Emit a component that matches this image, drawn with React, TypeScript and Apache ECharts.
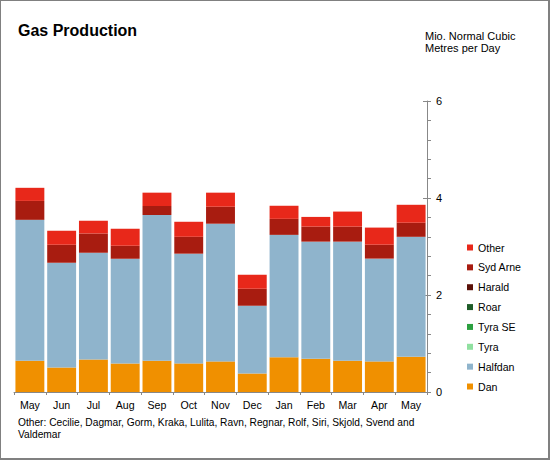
import React, { useEffect, useRef } from "react";
import * as echarts from "echarts";

const months = ["May", "Jun", "Jul", "Aug", "Sep", "Oct", "Nov", "Dec", "Jan", "Feb", "Mar", "Apr", "May"];
const dan = [0.645, 0.507, 0.672, 0.59, 0.645, 0.59, 0.631, 0.384, 0.714, 0.687, 0.645, 0.631, 0.728];
const halfdan = [2.905, 2.159, 2.2, 2.16, 3.005, 2.262, 2.839, 1.396, 2.526, 2.413, 2.455, 2.119, 2.472];
const tyra = [0, 0, 0, 0, 0, 0, 0, 0, 0, 0, 0, 0, 0];
const tyraSE = [0, 0, 0, 0, 0, 0, 0, 0, 0, 0, 0, 0, 0];
const roar = [0, 0, 0, 0, 0, 0, 0, 0, 0, 0, 0, 0, 0];
const harald = [0, 0, 0, 0, 0, 0, 0, 0, 0, 0, 0, 0, 0];
const sydArne = [0.39, 0.371, 0.398, 0.266, 0.185, 0.348, 0.35, 0.35, 0.33, 0.31, 0.31, 0.287, 0.29];
const other = [0.27, 0.289, 0.26, 0.351, 0.275, 0.31, 0.29, 0.29, 0.27, 0.2, 0.31, 0.353, 0.37];

const seriesDefs = [
  { name: "Dan", data: dan, color: "#f09000" },
  { name: "Halfdan", data: halfdan, color: "#8fb4cc" },
  { name: "Tyra", data: tyra, color: "#90e0a0" },
  { name: "Tyra SE", data: tyraSE, color: "#2ca040" },
  { name: "Roar", data: roar, color: "#1e5c28" },
  { name: "Harald", data: harald, color: "#5a1008" },
  { name: "Syd Arne", data: sydArne, color: "#a81c10" },
  { name: "Other", data: other, color: "#e8281a" },
];

const FONT = "'Liberation Sans', Arial, sans-serif";

export default function App() {
  const ref = useRef<HTMLDivElement>(null);
  useEffect(() => {
    if (!ref.current) return;
    const chart = echarts.init(ref.current, null, { renderer: "svg" });
    chart.setOption({
      animation: false,
      backgroundColor: "#ffffff",
      textStyle: { fontFamily: FONT },
      graphic: [
        {
          type: "rect",
          shape: { x: 0, y: 0, width: 549, height: 459 },
          style: { fill: "none", stroke: "#808080", lineWidth: 2 },
          silent: true,
        },
        {
          type: "text",
          left: 18,
          top: 22,
          style: { text: "Gas Production", font: `bold 16px ${FONT}`, fill: "#000" },
        },
        {
          type: "text",
          left: 425,
          top: 30,
          style: {
            text: "Mio. Normal Cubic\nMetres per Day",
            font: `11px ${FONT}`,
            lineHeight: 12,
            fill: "#000",
          },
        },
        {
          type: "text",
          left: 18,
          top: 416,
          style: {
            text: "Other: Cecilie, Dagmar, Gorm, Kraka, Lulita, Ravn, Regnar, Rolf, Siri, Skjold, Svend and\nValdemar",
            font: `10.2px ${FONT}`,
            lineHeight: 12,
            fill: "#000",
          },
        },
      ],
      legend: {
        orient: "vertical",
        left: 467,
        top: 242,
        padding: 0,
        itemWidth: 6,
        itemHeight: 6,
        itemGap: 8.86,
        icon: "rect",
        data: [...seriesDefs].reverse().map((s) => s.name),
        textStyle: { fontSize: 10.6, color: "#000", fontFamily: FONT, lineHeight: 11 },
      },
      grid: { left: 14, right: 123, top: 101, bottom: 68 },
      xAxis: {
        type: "category",
        data: months,
        axisLine: { lineStyle: { color: "#888" } },
        axisTick: { show: true, length: 3, lineStyle: { color: "#888" } },
        axisLabel: { fontSize: 10.6, color: "#000", margin: 7, interval: 0 },
      },
      yAxis: [
        {
          type: "value",
          position: "right",
          min: 0,
          max: 6,
          interval: 2,
          axisLine: { show: true, lineStyle: { color: "#888" } },
          axisTick: { show: true, length: 4, lineStyle: { color: "#888" } },
          minorTick: { show: true, splitNumber: 5, length: 4, lineStyle: { color: "#888" } },
          splitLine: { show: false },
          axisLabel: { fontSize: 11, color: "#000", margin: 9 },
        },
        {
          type: "value",
          position: "right",
          min: 0,
          max: 6,
          interval: 2,
          axisLine: { show: false },
          axisTick: { show: true, inside: true, length: 4, lineStyle: { color: "#888" } },
          splitLine: { show: false },
          axisLabel: { show: false },
        },
      ],
      series: seriesDefs.map((s) => ({
        type: "bar",
        name: s.name,
        stack: "gas",
        data: s.data,
        barCategoryGap: "9%",
        itemStyle: { color: s.color },
      })),
    });
    return () => chart.dispose();
  }, []);
  return (
    <div
      ref={ref}
      style={{ position: "absolute", left: 0, top: 0, width: 550, height: 460 }}
    />
  );
}
